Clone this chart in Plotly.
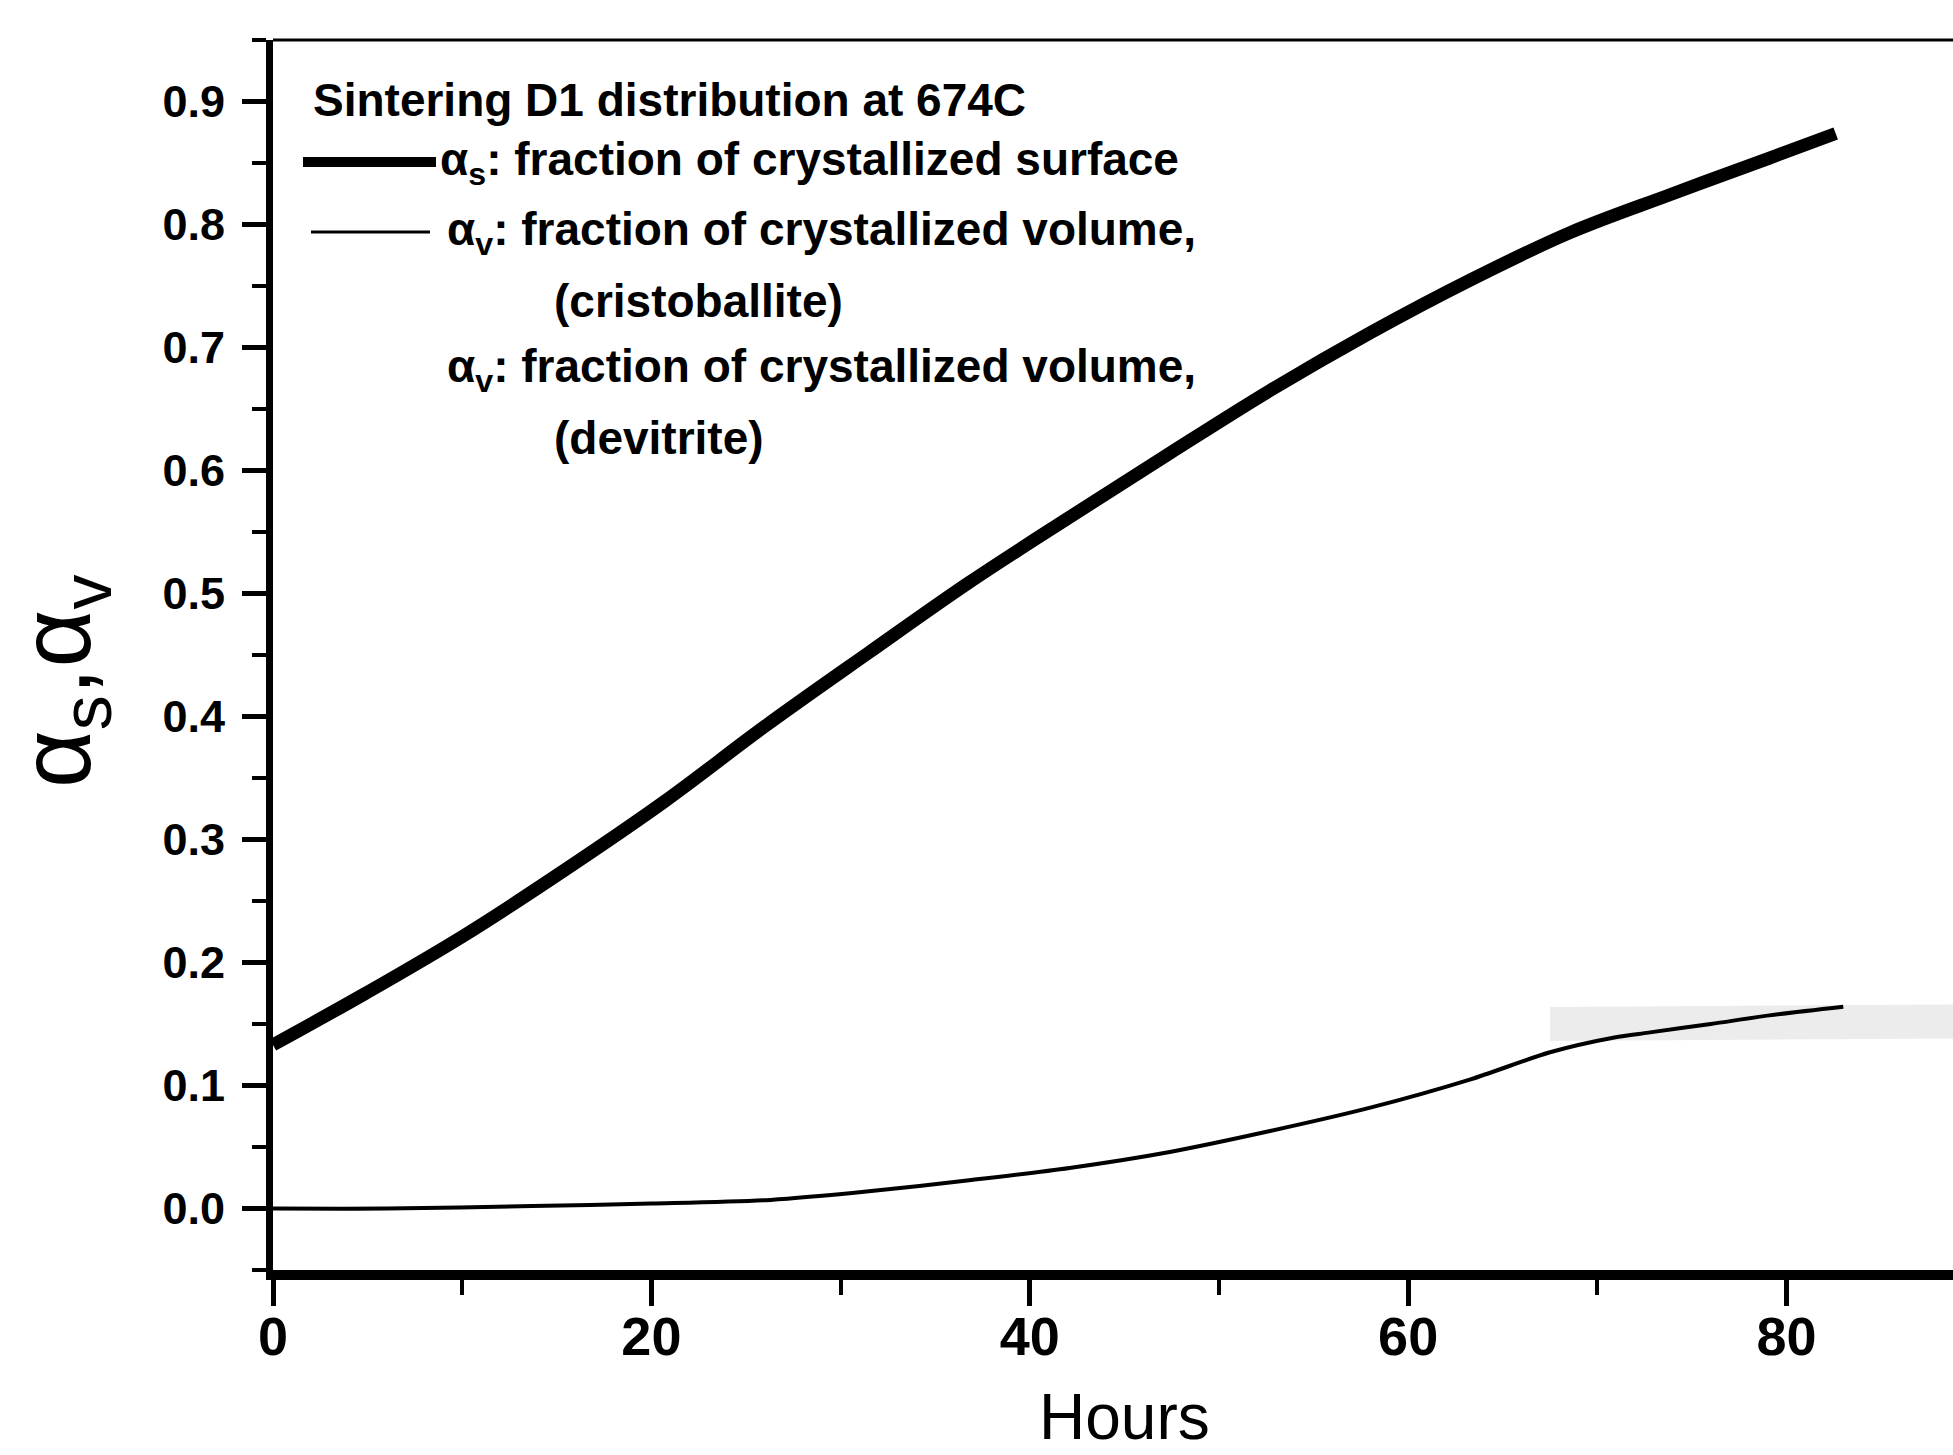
import plotly.graph_objects as go

# ---- data ----
hours_surface = [0, 4.9, 10.1, 15.4, 20.7, 26.0, 31.5, 36.8, 42.1, 47.4, 52.7, 58.0, 63.3, 68.5, 73.8, 79.1, 82.6]
alpha_surface = [0.133, 0.175, 0.222, 0.275, 0.331, 0.392, 0.452, 0.509, 0.562, 0.614, 0.665, 0.712, 0.755, 0.793, 0.824, 0.854, 0.874]

hours_cristo = [0, 6, 13.7, 20, 26.3, 31.5, 36.8, 42.1, 47.4, 52.7, 58.0, 63.3, 67.5, 70.9, 72.7, 76.0, 79.1, 83.0]
alpha_cristo = [0.0, 0.0, 0.002, 0.004, 0.007, 0.014, 0.023, 0.033, 0.046, 0.063, 0.082, 0.105, 0.127, 0.139, 0.143, 0.150, 0.157, 0.164]

hours_devit = [67.5, 72, 76, 80, 84, 88.8]
alpha_devit = [0.150, 0.151, 0.151, 0.152, 0.152, 0.152]

x_ticks = [0, 20, 40, 60, 80]
x_tick_labels = ["0", "20", "40", "60", "80"]

legend_title = "Sintering D1 distribution at 674C"
name_surface = "α<sub>s</sub>: fraction of crystallized surface"
name_cristo = "α<sub>v</sub>: fraction of crystallized volume,"
name_cristo2 = "(cristoballite)"
name_devit = "α<sub>v</sub>: fraction of crystallized volume,"
name_devit2 = "(devitrite)"

W, H = 1953, 1455
L, R, T, B = 273, 0, 40, 185
PW, PH = W - L - R, H - T - B


def px(xp):
    return (xp - L) / PW


def py(yp):
    return (H - B - yp) / PH


fig = go.Figure()
fig.add_trace(go.Scatter(x=hours_devit, y=alpha_devit, mode="lines",
                         line=dict(color="#ececec", width=34), showlegend=False))
fig.add_trace(go.Scatter(x=hours_cristo, y=alpha_cristo, mode="lines",
                         line=dict(color="black", width=4, shape="spline", smoothing=0.8), showlegend=False))
fig.add_trace(go.Scatter(x=hours_surface, y=alpha_surface, mode="lines",
                         line=dict(color="black", width=13, shape="spline", smoothing=1.0), showlegend=False))

tick_font_y = dict(family="Liberation Sans, Arial, sans-serif", size=45, color="black", weight="bold")
tick_font_x = dict(family="Liberation Sans Narrow, Arial Narrow, Liberation Sans, sans-serif", size=54,
                   color="black", weight="bold")
leg_font = dict(family="Liberation Sans, Arial, sans-serif", size=46, color="black", weight="bold")

fig.update_layout(
    width=W, height=H,
    margin=dict(l=L, r=R, t=T, b=B),
    paper_bgcolor="white", plot_bgcolor="white",
    showlegend=False,
    xaxis=dict(range=[0, 88.8], tickvals=x_ticks, ticktext=x_tick_labels,
               showgrid=False, zeroline=False, showline=True, linecolor="black", linewidth=10,
               ticks="outside", ticklen=26, tickwidth=5, tickcolor="black",
               tickfont=tick_font_x, ticklabelstandoff=-16,
               minor=dict(dtick=10, ticks="outside", ticklen=15, tickwidth=4, tickcolor="black")),
    yaxis=dict(range=[-0.05, 0.95], dtick=0.1, tick0=0, tickformat=".1f",
               showgrid=False, zeroline=False, showline=True, linecolor="black", linewidth=7,
               ticks="outside", ticklen=24, tickwidth=5, tickcolor="black",
               tickfont=tick_font_y, ticklabelstandoff=8,
               minor=dict(dtick=0.05, tick0=0, ticks="outside", ticklen=14, tickwidth=4, tickcolor="black")),
)

# top frame line
fig.add_shape(type="line", xref="paper", yref="paper", x0=0, x1=1, y0=1, y1=1,
              line=dict(color="black", width=3))

# legend samples
fig.add_shape(type="line", xref="paper", yref="paper", x0=px(303), x1=px(436), y0=py(162), y1=py(162),
              line=dict(color="black", width=10))
fig.add_shape(type="line", xref="paper", yref="paper", x0=px(311), x1=px(430), y0=py(232), y1=py(232),
              line=dict(color="black", width=3))

legend_rows = [
    (legend_title, 311, 100),
    (name_surface, 438, 162),
    (name_cristo, 445, 232),
    (name_cristo2, 552, 301),
    (name_devit, 445, 369),
    (name_devit2, 552, 438),
]
for txt, xl, yc in legend_rows:
    fig.add_annotation(text=txt, xref="paper", yref="paper", x=px(xl), y=py(yc),
                       xanchor="left", yanchor="middle", showarrow=False, font=leg_font)

# axis titles
fig.add_annotation(text="Hours", xref="paper", yref="paper", x=px(1124), y=py(1455),
                   xanchor="center", yanchor="bottom", showarrow=False,
                   font=dict(family="Liberation Sans, Arial, sans-serif", size=64, color="black"))
fig.add_annotation(text="α<sub>s</sub>,α<sub>v</sub>", xref="paper", yref="paper", x=px(62), y=py(682),
                   xanchor="center", yanchor="middle", showarrow=False, textangle=-90,
                   font=dict(family="Liberation Sans, Arial, sans-serif", size=100, color="black"))

fig.write_html("out.html")
